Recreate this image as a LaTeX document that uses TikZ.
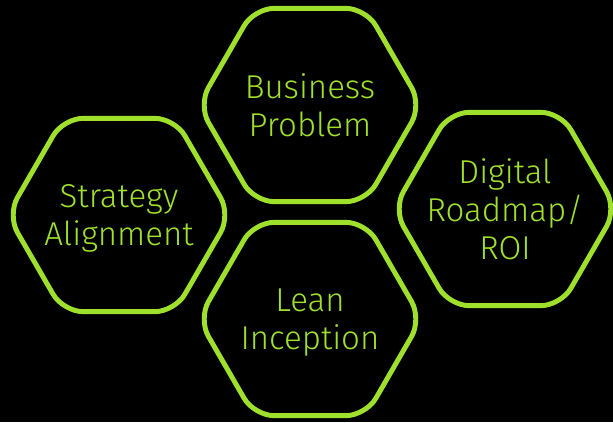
\documentclass[tikz,border=0pt]{standalone}
\usepackage{fontspec}
\setmainfont{Fira Sans Light}
\usetikzlibrary{shapes.geometric}
\definecolor{hexgreen}{HTML}{9FE02C}

\begin{document}
\begin{tikzpicture}[x=0.025cm,y=-0.025cm,
    hexa/.style={draw=hexgreen,
        line width=3.5pt,
        regular polygon,
        regular polygon sides=6,
        minimum size=5.58cm,
        rounded corners=0.5cm,
        inner sep=0pt,
        outer sep=0pt},
    hextext/.style={text=hexgreen,
        align=center,
        text depth=0pt,
        font=\fontsize{23.5}{27}\selectfont}]

% Background
\fill[black] (0,0) rectangle (613,422);
\useasboundingbox (0,0) rectangle (613,422);

% Top hexagon
\node[hexa, label={[hextext]center:Business\\Problem}] (problem) at (310,105) {};

% Left hexagon
\node[hexa, label={[hextext]center:Strategy\\Alignment}] (strategy) at (119,215) {};

% Right hexagon
\node[hexa, label={[hextext]center:Digital\\Roadmap/\\ROI}] (roadmap) at (505,209) {};

% Bottom hexagon
\node[hexa, label={[hextext]center:Lean\\Inception}] (lean) at (310,319) {};

\end{tikzpicture}
\end{document}
